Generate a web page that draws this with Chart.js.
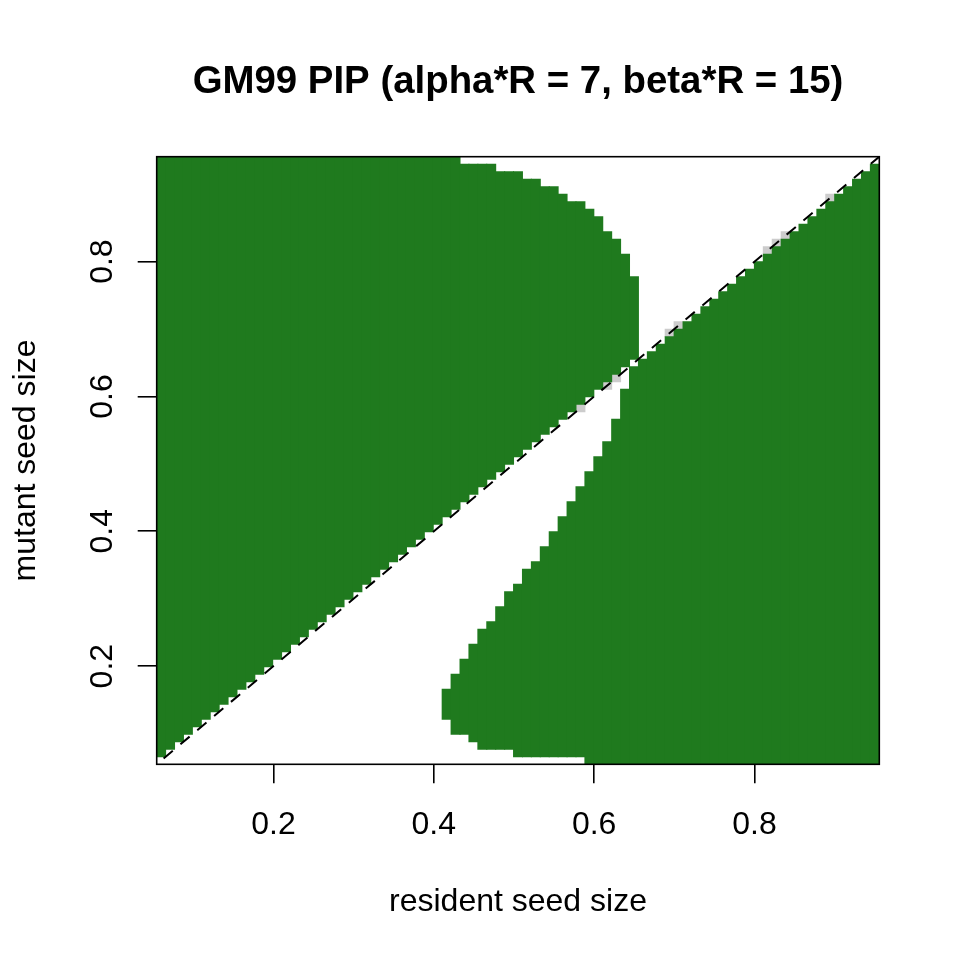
<!DOCTYPE html>
<html>
<head>
<meta charset="utf-8">
<title>GM99 PIP</title>
<script src="https://cdn.jsdelivr.net/npm/chart.js@4.4.1/dist/chart.umd.min.js"></script>
<style>
  html, body { margin: 0; padding: 0; background: #fff; }
  #pipChart { display: block; }
</style>
</head>
<body>
<canvas id="pipChart" width="960" height="960"></canvas>
<script>
// resident (x) and mutant (y) seed sizes use the same 81 point grid
const residentSize = [
  0.0600, 0.0711, 0.0823, 0.0934, 0.1045, 0.1156, 0.1268, 0.1379, 0.1490, 0.1601,
  0.1713, 0.1824, 0.1935, 0.2046, 0.2158, 0.2269, 0.2380, 0.2491, 0.2603, 0.2714,
  0.2825, 0.2936, 0.3048, 0.3159, 0.3270, 0.3381, 0.3493, 0.3604, 0.3715, 0.3826,
  0.3938, 0.4049, 0.4160, 0.4271, 0.4383, 0.4494, 0.4605, 0.4716, 0.4828, 0.4939,
  0.5050, 0.5161, 0.5273, 0.5384, 0.5495, 0.5606, 0.5718, 0.5829, 0.5940, 0.6051,
  0.6163, 0.6274, 0.6385, 0.6496, 0.6608, 0.6719, 0.6830, 0.6941, 0.7053, 0.7164,
  0.7275, 0.7386, 0.7498, 0.7609, 0.7720, 0.7831, 0.7943, 0.8054, 0.8165, 0.8276,
  0.8388, 0.8499, 0.8610, 0.8721, 0.8833, 0.8944, 0.9055, 0.9166, 0.9278, 0.9389,
  0.9500
];

// mutant rows counted from the bottom of the grid, one entry per resident column
// green block above the diagonal: first row .. top row (exclusive)
const aboveBottom = [
  1, 2, 3, 4, 5, 6, 7, 8, 9, 10,
  11, 12, 13, 14, 15, 16, 17, 18, 19, 20,
  21, 22, 23, 24, 25, 26, 27, 28, 29, 30,
  31, 32, 33, 34, 35, 36, 37, 38, 39, 40,
  41, 42, 43, 44, 45, 46, 47, 48, 49, 50,
  51, 52, 53, 54, null, null, null, null, null, null,
  null, null, null, null, null, null, null, null, null, null,
  null, null, null, null, null, null, null, null, null, null,
  null
];
const aboveTop = [
  81, 81, 81, 81, 81, 81, 81, 81, 81, 81,
  81, 81, 81, 81, 81, 81, 81, 81, 81, 81,
  81, 81, 81, 81, 81, 81, 81, 81, 81, 81,
  81, 81, 81, 81, 80, 80, 80, 80, 79, 79,
  79, 78, 78, 77, 77, 76, 75, 75, 74, 73,
  71, 70, 68, 65, null, null, null, null, null, null,
  null, null, null, null, null, null, null, null, null, null,
  null, null, null, null, null, null, null, null, null, null,
  null
];

// green block below the diagonal
const belowBottom = [
  null, null, null, null, null, null, null, null, null, null,
  null, null, null, null, null, null, null, null, null, null,
  null, null, null, null, null, null, null, null, null, null,
  null, null, 6, 4, 4, 3, 2, 2, 2, 2,
  1, 1, 1, 1, 1, 1, 1, 1, 0, 0,
  0, 0, 0, 0, 0, 0, 0, 0, 0, 0,
  0, 0, 0, 0, 0, 0, 0, 0, 0, 0,
  0, 0, 0, 0, 0, 0, 0, 0, 0, 0,
  0
];
const belowTop = [
  null, null, null, null, null, null, null, null, null, null,
  null, null, null, null, null, null, null, null, null, null,
  null, null, null, null, null, null, null, null, null, null,
  null, null, 10, 12, 14, 16, 18, 19, 21, 23,
  24, 26, 27, 29, 31, 33, 35, 37, 39, 41,
  43, 46, 50, 53, 54, 55, 56, 57, 58, 59,
  60, 61, 62, 63, 64, 65, 66, 67, 68, 69,
  70, 71, 72, 73, 74, 75, 76, 77, 78, 79,
  80
];

// grey (neutral) cells sitting on the diagonal
const greyCol = [47, 50, 51, 57, 58, 68, 69, 70, 75];
const greyRow = [47, 50, 51, 57, 58, 68, 69, 70, 75];

const sizeRange = [0.0544, 0.9556];
const xTicks = [0.2, 0.4, 0.6, 0.8];
const yTicks = [0.2, 0.4, 0.6, 0.8];
const diagonal = [{ x: 0, y: 0 }, { x: 1, y: 1 }];

const titleText = 'GM99 PIP (alpha*R = 7, beta*R = 15)';
const xTitle = 'resident seed size';
const yTitle = 'mutant seed size';

const green = 'rgb(31, 122, 30)';
const grey = '#cccccc';
const fontFamily = '"Liberation Sans", Arial, Helvetica, sans-serif';

function blocks(lo, hi) {
    return residentSize.map((_, i) => lo[i] === null ? null : [lo[i], hi[i]]);
}

const greyBlocks = residentSize.map((_, i) => {
    const k = greyCol.indexOf(i);
    return k < 0 ? null : [greyRow[k], greyRow[k] + 1];
});

// R style text: title, tick labels, axis titles, and the box round the plot
const rText = {
    id: 'rText',
    afterDraw(chart) {
        const { ctx, chartArea: a, scales } = chart;
        const cx = (a.left + a.right) / 2;
        const cy = (a.top + a.bottom) / 2;
        ctx.save();
        ctx.strokeStyle = '#000';
        ctx.lineWidth = 1.6;
        ctx.strokeRect(a.left, a.top, a.right - a.left, a.bottom - a.top);

        ctx.fillStyle = '#000';
        ctx.textAlign = 'center';
        ctx.textBaseline = 'alphabetic';
        ctx.font = 'bold 38.4px ' + fontFamily;
        ctx.fillText(titleText, cx, a.top - 63.4);

        ctx.font = '32px ' + fontFamily;
        xTicks.forEach(v => {
            ctx.fillText(v.toFixed(1), scales.x.getPixelForValue(v), a.bottom + 70);
        });
        ctx.fillText(xTitle, cx, a.bottom + 147);

        yTicks.forEach(v => {
            ctx.save();
            ctx.translate(a.left - 45, scales.y.getPixelForValue(v));
            ctx.rotate(-Math.PI / 2);
            ctx.fillText(v.toFixed(1), 0, 0);
            ctx.restore();
        });
        ctx.save();
        ctx.translate(a.left - 121.7, cy);
        ctx.rotate(-Math.PI / 2);
        ctx.fillText(yTitle, 0, 0);
        ctx.restore();
        ctx.restore();
    }
};

const barCommon = {
    type: 'bar',
    xAxisID: 'col',
    yAxisID: 'row',
    grouped: false,
    barPercentage: 1,
    categoryPercentage: 1,
    borderWidth: 0,
    inflateAmount: 0.5,
    order: 1
};

const tickGrid = {
    display: true,
    offset: false,
    drawOnChartArea: false,
    drawTicks: true,
    tickLength: 19,
    color: '#000',
    lineWidth: 1.6
};

new Chart(document.getElementById('pipChart'), {
    type: 'bar',
    data: {
        labels: residentSize.map(v => v.toFixed(4)),
        datasets: [
            Object.assign({ label: 'invades (above)', data: blocks(aboveBottom, aboveTop), backgroundColor: green }, barCommon),
            Object.assign({ label: 'invades (below)', data: blocks(belowBottom, belowTop), backgroundColor: green }, barCommon),
            Object.assign({ label: 'neutral', data: greyBlocks, backgroundColor: grey }, barCommon),
            {
                type: 'line',
                label: 'y = x',
                xAxisID: 'x',
                yAxisID: 'y',
                data: diagonal,
                borderColor: '#000',
                borderWidth: 2,
                borderDash: [12, 10],
                pointRadius: 0,
                fill: false,
                order: 0
            }
        ]
    },
    options: {
        responsive: false,
        devicePixelRatio: 1,
        animation: false,
        layout: { padding: { top: 156.7, right: 80.7, bottom: 0, left: 0 } },
        plugins: {
            legend: { display: false },
            tooltip: { enabled: false }
        },
        scales: {
            col: { type: 'category', display: false, offset: true, position: 'bottom' },
            row: { type: 'linear', display: false, min: 0, max: 81, position: 'left' },
            x: {
                type: 'linear',
                position: 'bottom',
                offset: false,
                min: sizeRange[0],
                max: sizeRange[1],
                afterBuildTicks: s => { s.ticks = xTicks.map(v => ({ value: v })); },
                afterFit: s => { s.height = 195.7; },
                ticks: { display: false },
                grid: tickGrid,
                border: { display: false }
            },
            y: {
                type: 'linear',
                position: 'left',
                offset: false,
                min: sizeRange[0],
                max: sizeRange[1],
                afterBuildTicks: s => { s.ticks = yTicks.map(v => ({ value: v })); },
                afterFit: s => { s.width = 156.7; },
                ticks: { display: false },
                grid: tickGrid,
                border: { display: false }
            }
        }
    },
    plugins: [rText]
});
</script>
</body>
</html>
